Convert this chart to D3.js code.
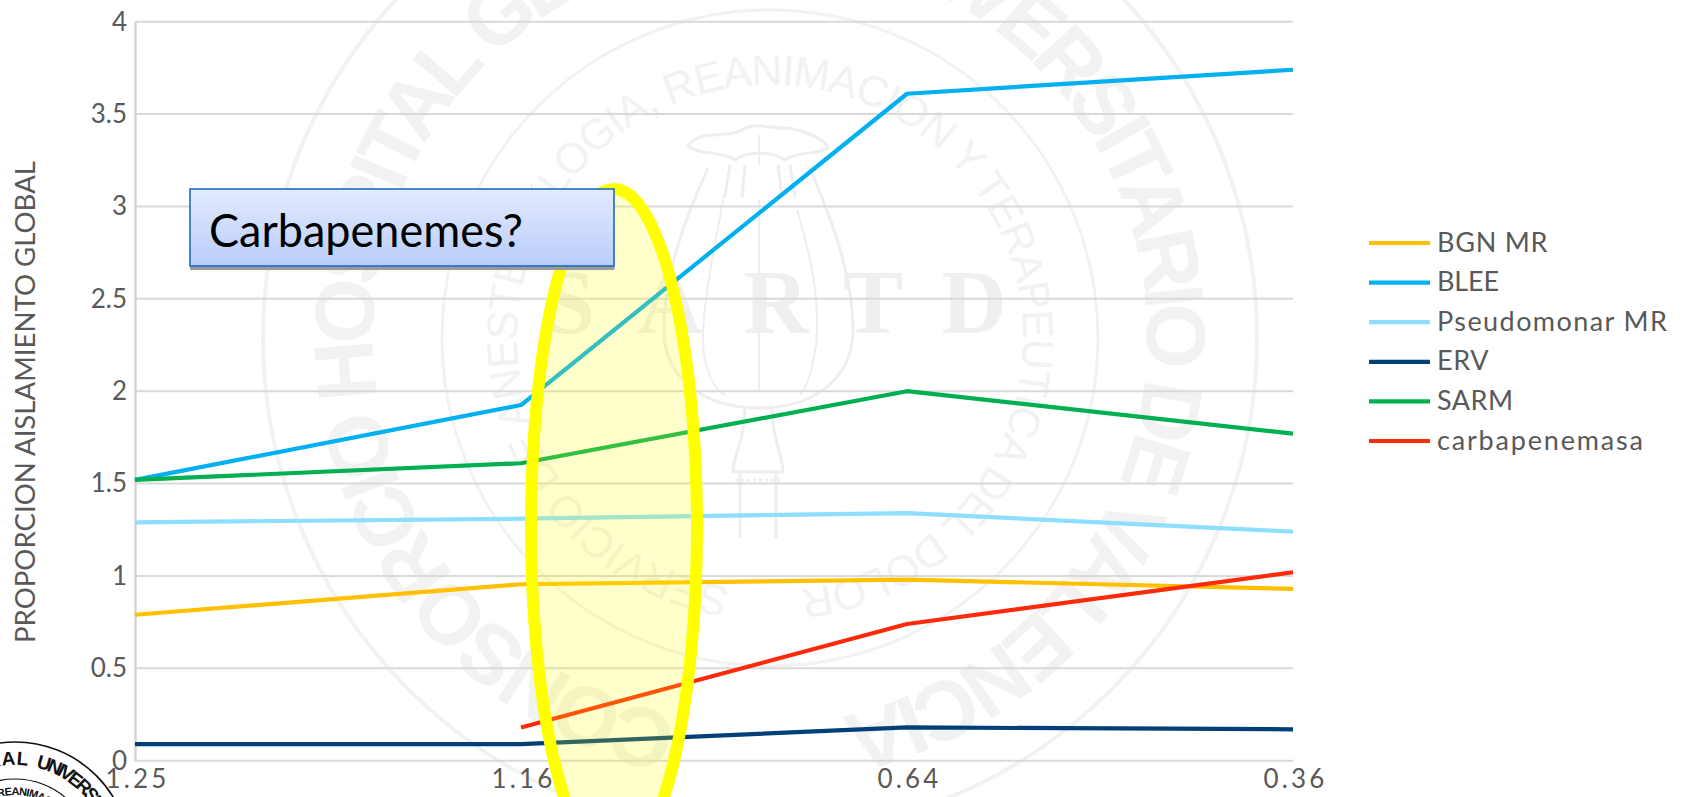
<!DOCTYPE html>
<html lang="es">
<head>
<meta charset="utf-8">
<title>Proporción de aislamiento global</title>
<script src="https://cdn.jsdelivr.net/npm/d3@7"></script>
<style>
  html, body { margin: 0; padding: 0; background: #fff; }
  svg { display: block; }
  text { font-family: Lato, "Open Sans", sans-serif; }
</style>
</head>
<body>
<svg id="chart" width="1684" height="797"></svg>
<script>
// Chart data
const categories = ["1.25", "1.16", "0.64", "0.36"];
const seriesNames = ["BGN MR", "BLEE", "Pseudomonar MR", "ERV", "SARM", "carbapenemasa"];
const seriesColors = ["#FFC000", "#00B0F0", "#8CDFFF", "#003F78", "#00B050", "#FF2A0A"];
const bgnMr = [0.79, 0.955, 0.98, 0.93];
const blee = [1.52, 1.925, 3.61, 3.74];
const pseudomonarMr = [1.29, 1.31, 1.34, 1.24];
const erv = [0.09, 0.09, 0.18, 0.17];
const sarm = [1.52, 1.61, 2.0, 1.77];
const carbapenemasa = [null, 0.18, 0.74, 1.02];
const yTicks = [0, 0.5, 1, 1.5, 2, 2.5, 3, 3.5, 4];
const yTitle = "PROPORCION AISLAMIENTO GLOBAL";
const calloutText = "Carbapenemes?";
const sealLetters = ["S", "A", "R", "T", "D"];

const allSeries = [bgnMr, blee, pseudomonarMr, erv, sarm, carbapenemasa];

const svg = d3.select("#chart");
const x = d3.scalePoint().domain(categories).range([135, 1293]);
const y = d3.scaleLinear().domain([0, 4]).range([760.7, 21.7]);

const defs = svg.append("defs");

// Lays text around a circle, clockwise, spread to fill the arc between two angles
// (degrees clockwise from the top; the baseline sits at radius r).
let arcId = 0;
function arcText(g, cx, cy, r, fromDeg, toDeg, str, fontSize, family, fill, weight) {
  const a0 = fromDeg * Math.PI / 180;
  const a1 = toDeg * Math.PI / 180;
  const path = d3.path();
  path.arc(cx, cy, r, a0 - Math.PI / 2, a1 - Math.PI / 2, false);
  const id = "arc" + (arcId++);
  defs.append("path").attr("id", id).attr("d", path.toString());
  const t = g.append("text")
    .attr("font-size", fontSize)
    .attr("fill", fill)
    .attr("font-weight", weight || 400)
    .style("font-family", family);
  t.append("textPath").attr("href", "#" + id).text(str);
  const probe = g.append("text")
    .attr("font-size", fontSize).attr("font-weight", weight || 400)
    .style("font-family", family).text(str);
  const natural = probe.node().getComputedTextLength();
  probe.remove();
  const target = r * (a1 - a0);
  t.style("letter-spacing", ((target - natural) / (str.length - 1)) + "px");
}

// Background seal of the department
const seal = svg.append("g").attr("class", "seal");
const sealGrey = "#f2f2f2";
const narrow = '"Liberation Sans Narrow", "Liberation Sans", sans-serif';
seal.append("circle").attr("cx", 760).attr("cy", 338).attr("r", 497)
  .attr("fill", "none").attr("stroke", sealGrey).attr("stroke-width", 4);
seal.append("circle").attr("cx", 770).attr("cy", 338).attr("r", 328)
  .attr("fill", "none").attr("stroke", sealGrey).attr("stroke-width", 3);
arcText(seal, 760, 338, 387, 192, 528, "CONSORCIO HOSPITAL GENERAL UNIVERSITARIO DE VALENCIA", 84, narrow, sealGrey, 700);
arcText(seal, 770, 338, 253, 189, 533, "SERVICIO DE ANESTESIOLOGIA, REANIMACION Y TERAPEUTICA DEL DOLOR", 43, narrow, sealGrey);

// Poppy capsule at the centre of the seal
const poppy = seal.append("g").attr("fill", "none").attr("stroke", "#eeeeee").attr("stroke-width", 3);
poppy.append("path").attr("d", "M708,168 C680,230 664,280 664,330 C664,375 700,408 759,408 C818,408 853,375 853,330 C853,280 836,230 810,168");
poppy.append("path").attr("d", "M688,146 C700,128 730,140 745,128 C760,122 775,130 790,128 C805,132 825,138 828,148 C815,156 800,150 785,160 C770,150 745,152 735,160 C720,150 700,156 688,146 Z");
poppy.append("path").attr("stroke-width", 2).attr("d", "M759,135 L759,165 M724,195 C716,240 703,300 703,340 C703,370 715,390 725,395 M797,210 C812,260 820,300 816,345 C812,370 808,385 800,395 M759,200 L759,390");
poppy.append("path").attr("d", "M730,165 L725,197 M745,165 L742,197 M778,165 L782,197 M790,165 L795,197");
poppy.append("path").attr("d", "M745,408 C745,440 733,455 733,472 L783,472 C783,455 772,440 772,408 M740,472 L740,538 M776,472 L776,538");
poppy.append("path").attr("stroke-dasharray", "3 3").attr("d", "M735,480 L781,480");

seal.selectAll(".letter").data(sealLetters).join("text")
  .attr("class", "letter")
  .attr("x", (d, i) => [570, 670, 776, 873, 974][i])
  .attr("y", 333)
  .attr("text-anchor", "middle")
  .attr("font-size", 90)
  .attr("font-weight", 700)
  .attr("fill", "#efefef")
  .style("font-family", '"Liberation Serif", serif')
  .text(d => d);

// Department stamp in the lower-left corner
const stamp = svg.append("g").attr("class", "stamp");
const stampFont = '"Liberation Sans Narrow", "Liberation Sans", sans-serif';
stamp.append("circle").attr("cx", 15).attr("cy", 857).attr("r", 115)
  .attr("fill", "#fff").attr("stroke", "#111").attr("stroke-width", 1.6);
stamp.append("circle").attr("cx", 15).attr("cy", 857).attr("r", 78)
  .attr("fill", "none").attr("stroke", "#111").attr("stroke-width", 1.2);
arcText(stamp, 15, 857, 92, -52, 8, "GENERAL", 19, stampFont, "#111", 700);
arcText(stamp, 15, 857, 92, 13, 83, "UNIVERSITARIO", 19, stampFont, "#111", 700);
arcText(stamp, 15, 857, 62, -16, 50, "REANIMACION", 11, stampFont, "#111", 700);

// Gridlines and axes
svg.append("g").selectAll("line").data(yTicks).join("line")
  .attr("x1", x.range()[0]).attr("x2", x.range()[1])
  .attr("y1", d => y(d)).attr("y2", d => y(d))
  .attr("stroke", "#d9d9d9").attr("stroke-width", 2);

const yAxis = svg.append("g")
  .attr("transform", `translate(${x.range()[0]},0)`)
  .call(d3.axisLeft(y).tickValues(yTicks).tickFormat(d3.format("~g")).tickSize(0).tickPadding(8));
yAxis.select(".domain").attr("stroke", "#d4d4d4").attr("stroke-width", 2.4);
yAxis.selectAll("text").attr("fill", "#595959").attr("font-size", 26).style("font-family", "Lato");

const xAxis = svg.append("g")
  .attr("transform", `translate(0,${y(0)})`)
  .call(d3.axisBottom(x).tickSize(0).tickPadding(9));
xAxis.select(".domain").remove();
xAxis.selectAll("text").attr("fill", "#595959").attr("font-size", 26).attr("dx", 2)
  .style("font-family", "Lato").style("letter-spacing", "3.2px");

svg.append("text")
  .attr("transform", "translate(35,402) rotate(-90)")
  .attr("text-anchor", "middle")
  .attr("font-size", 27)
  .attr("fill", "#595959")
  .attr("textLength", 482)
  .attr("lengthAdjust", "spacingAndGlyphs")
  .text(yTitle);

// Series lines
const line = d3.line()
  .defined(d => d !== null)
  .x((d, i) => x(categories[i]))
  .y(d => y(d));

svg.append("g").selectAll("path").data(allSeries).join("path")
  .attr("d", d => line(d))
  .attr("fill", "none")
  .attr("stroke", (d, i) => seriesColors[i])
  .attr("stroke-width", 4.2)
  .attr("stroke-linejoin", "round");

// Legend
const legendTextWidths = [110.5, 62, 230, 51.5, 76, 206];
const legend = svg.append("g").selectAll("g").data(seriesNames).join("g")
  .attr("transform", (d, i) => `translate(1369,${243 + i * 39.6})`);
legend.append("line").attr("x1", 0).attr("x2", 61)
  .attr("stroke", (d, i) => seriesColors[i]).attr("stroke-width", 4.2);
legend.append("text").attr("x", 68).attr("y", 8.5)
  .attr("font-size", 27).attr("fill", "#595959")
  .attr("textLength", (d, i) => legendTextWidths[i])
  .text(d => d);

// Highlight ellipse around the 1.16 to 0.64 stretch
svg.append("ellipse")
  .attr("cx", 614).attr("cy", 527).attr("rx", 83).attr("ry", 338)
  .attr("fill", "rgba(255,255,0,0.2)")
  .attr("stroke", "#FFFF00").attr("stroke-width", 12);
svg.append("line").attr("x1", 531.5).attr("x2", 531.5).attr("y1", 183).attr("y2", 190)
  .attr("stroke", "#FFFF00").attr("stroke-width", 1);

// Callout box
const grad = defs.append("linearGradient").attr("id", "calloutFill")
  .attr("x1", 0).attr("x2", 0).attr("y1", 0).attr("y2", 1);
grad.append("stop").attr("offset", "0%").attr("stop-color", "#E3EAFE");
grad.append("stop").attr("offset", "100%").attr("stop-color", "#B9CDFA");
svg.append("rect").attr("x", 190).attr("y", 193).attr("width", 424.5).attr("height", 77)
  .attr("fill", "#9a9a9a");
svg.append("rect").attr("x", 190).attr("y", 189).attr("width", 424).attr("height", 77)
  .attr("fill", "url(#calloutFill)").attr("stroke", "#1F6CBE").attr("stroke-width", 1.6);
svg.append("text").attr("x", 209).attr("y", 247)
  .attr("font-size", 46).attr("fill", "#000")
  .attr("textLength", 314).attr("lengthAdjust", "spacingAndGlyphs")
  .text(calloutText);
</script>
</body>
</html>
